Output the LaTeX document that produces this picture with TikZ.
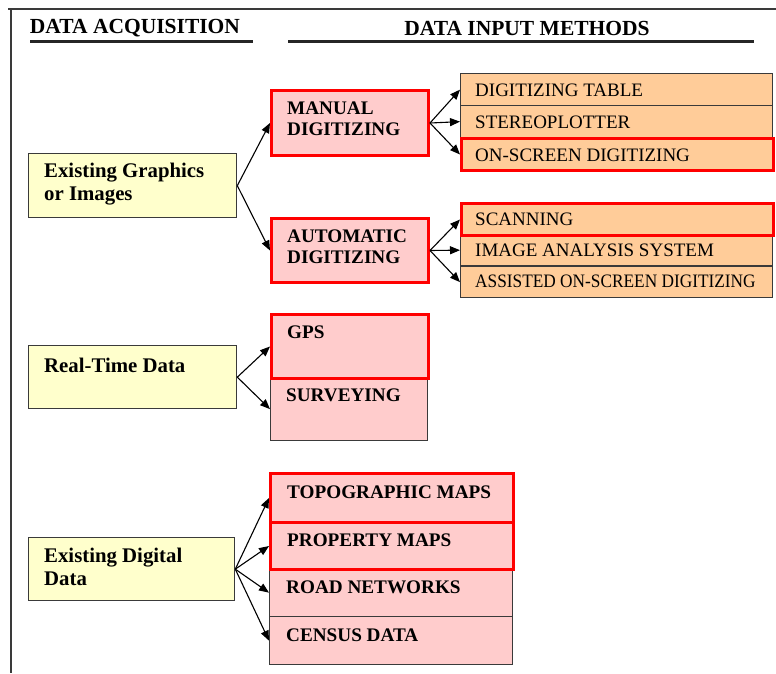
\documentclass[tikz,border=0pt]{standalone}
\usepackage{fontspec}
\usepackage{graphicx}
\setmainfont{Liberation Serif}
\usetikzlibrary{arrows.meta,calc}

\definecolor{srcfill}{HTML}{FFFFCC}
\definecolor{methfill}{HTML}{FFCCCC}
\definecolor{toolfill}{HTML}{FFCC99}
\definecolor{edge}{HTML}{3A3A3A}
\definecolor{hl}{HTML}{FF0000}

\tikzset{
  box/.style={draw=edge, line width=1.3pt, anchor=north west, inner sep=0pt},
  srcbox/.style={box, fill=srcfill, minimum width=208pt},
  methbox/.style={box, fill=methfill},
  toolbox/.style={box, fill=toolfill, minimum width=312pt},
  hilite/.style={draw=hl, line width=3pt},
  lbl/.style={anchor=west, inner sep=0pt, align=left,
              font=\fontsize{19.2}{21}\selectfont\bfseries},
  srclbl/.style={lbl, font=\fontsize{20.8}{23}\selectfont\bfseries},
  toollbl/.style={lbl, font=\fontsize{19}{21}\selectfont},
  title/.style={anchor=center, inner sep=0pt, font=\fontsize{21.5}{24}\selectfont\bfseries},
  rule/.style={line width=2.6pt, draw=black!85},
  frame/.style={line width=1.2pt, draw=edge},
  link/.style={draw=black, line width=1.1pt, -{Triangle[length=10pt,width=8pt]}}
}

\begin{document}
\begin{tikzpicture}[x=1pt,y=-1pt]
\useasboundingbox (0,0) rectangle (776,673);

% page frame
\draw[frame] (8,9) -- (776,9);
\draw[frame] (11,9) -- (11,673);

% column headings
\node[title] (hacq) at (135,28.5) {DATA ACQUISITION};
\node[title] (hinp) at (527,28.5) {DATA INPUT METHODS};
\draw[rule] (30,41.5) -- (253,41.5);
\draw[rule] (288,41.5) -- (754,41.5);

% data sources
\node[srcbox, minimum height=64pt] (egi) at (28,153) {};
\node[srcbox, minimum height=63pt] (rtd) at (28,345) {};
\node[srcbox, minimum width=206pt, minimum height=63pt] (edd) at (28,537) {};
\node[srclbl] (egi-t) at (44,184) {Existing Graphics\\or Images};
\node[srclbl] (rtd-t) at (44,365) {Real-Time Data};
\node[srclbl] (edd-t) at (44,567) {Existing Digital\\Data};

% digitizing tools (plain rows first, highlighted rows on top)
\node[toolbox, minimum height=32pt] (dtab) at (460,73) {};
\node[toolbox, minimum height=32pt] (stereo) at (460,105) {};
\node[toolbox, minimum height=31pt] (imgan) at (460,234) {};
\node[toolbox, minimum height=31pt] (assist) at (460,266) {};
\node[toolbox, hilite, minimum height=32pt] (onscr) at (460,137) {};
\node[toolbox, hilite, minimum height=32pt] (scan) at (460,202) {};
\node[toollbl] (dtab-t) at (475,90) {DIGITIZING TABLE};
\node[toollbl] (stereo-t) at (475,122.5) {STEREOPLOTTER};
\node[toollbl] (onscr-t) at (475,155.5) {ON-SCREEN DIGITIZING};
\node[toollbl] (scan-t) at (475,219.5) {SCANNING};
\node[toollbl] (imgan-t) at (475,250.5) {IMAGE ANALYSIS SYSTEM};
\node[toollbl] (assist-t) at (475,281.5) {\scalebox{0.91}[1]{ASSISTED ON-SCREEN DIGITIZING}};

% input methods
\node[methbox, hilite, minimum width=157pt, minimum height=65pt] (man) at (270,89) {};
\node[methbox, hilite, minimum width=157pt, minimum height=64pt] (auto) at (270,217) {};
\node[methbox, minimum width=157pt, minimum height=63pt] (surv) at (270,377) {};
\node[methbox, hilite, minimum width=157pt, minimum height=64pt] (gps) at (270,313) {};
\node[methbox, minimum width=243pt, minimum height=48pt] (road) at (269,568) {};
\node[methbox, minimum width=243pt, minimum height=48pt] (census) at (269,616) {};
\node[methbox, hilite, minimum width=243pt, minimum height=49pt] (topo) at (269,472) {};
\node[methbox, hilite, minimum width=243pt, minimum height=47pt] (prop) at (269,521) {};

\node[lbl] (man-t) at (287,118.5) {MANUAL\\DIGITIZING};
\node[lbl] (auto-t) at (287,247) {AUTOMATIC\\DIGITIZING};
\node[lbl] (gps-t) at (287,332) {GPS};
\node[lbl] (surv-t) at (286,395) {SURVEYING};
\node[lbl] (topo-t) at (287,492) {TOPOGRAPHIC MAPS};
\node[lbl] (prop-t) at (287,540) {PROPERTY MAPS};
\node[lbl] (road-t) at (286,587) {ROAD NETWORKS};
\node[lbl] (census-t) at (286,635) {CENSUS DATA};

% connectors
\draw[link] (egi.east) -- (man.west);
\draw[link] (egi.east) -- (auto.west);
\draw[link] (man.east) -- (dtab.west);
\draw[link] (man.east) -- (stereo.west);
\draw[link] (man.east) -- (onscr.west);
\draw[link] (auto.east) -- (scan.west);
\draw[link] (auto.east) -- (imgan.west);
\draw[link] (auto.east) -- (assist.west);
\draw[link] (rtd.east) -- (gps.west);
\draw[link] (rtd.east) -- (surv.west);
\draw[link] (edd.east) -- (topo.west);
\draw[link] (edd.east) -- (prop.west);
\draw[link] (edd.east) -- (road.west);
\draw[link] (edd.east) -- (census.west);
\end{tikzpicture}
\end{document}
